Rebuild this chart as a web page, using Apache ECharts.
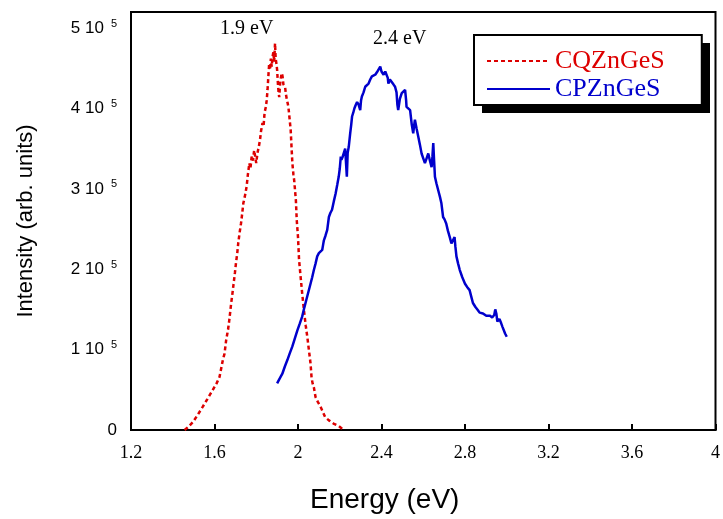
<!DOCTYPE html>
<html>
<head>
<meta charset="utf-8">
<script src="https://cdn.jsdelivr.net/npm/echarts@6/dist/echarts.min.js"></script>
<style>
  html, body { margin: 0; padding: 0; background: #fff; }
  #main { width: 723px; height: 519px; }
</style>
</head>
<body>
<div id="main"></div>
<script>
// CQZnGeS (red, dashed) - energy in eV, intensity in units of 1000
var energyQ = [1.457, 1.475, 1.497, 1.52, 1.544, 1.565, 1.592, 1.61, 1.624, 1.64, 1.648, 1.656, 1.665, 1.671,
  1.68, 1.686, 1.692, 1.698, 1.703, 1.709, 1.714, 1.72, 1.727, 1.733, 1.738, 1.745, 1.754, 1.76, 1.767, 1.772,
  1.778, 1.784, 1.79, 1.795, 1.8, 1.806, 1.812, 1.818, 1.823, 1.83, 1.835, 1.84, 1.846, 1.85, 1.854, 1.858,
  1.862, 1.866, 1.87, 1.874, 1.878, 1.882, 1.886, 1.89, 1.893, 1.897, 1.9, 1.904, 1.907, 1.91, 1.914, 1.918,
  1.922, 1.926, 1.93, 1.934, 1.938, 1.942, 1.946, 1.95, 1.954, 1.957, 1.962, 1.965, 1.969, 1.973, 1.978, 1.982,
  1.986, 1.99, 1.994, 2.0, 2.005, 2.012, 2.02, 2.028, 2.037, 2.045, 2.052, 2.06, 2.065, 2.07, 2.076, 2.084,
  2.095, 2.108, 2.12, 2.13, 2.148, 2.17, 2.195, 2.22];
var intensityQ = [0, 4, 10, 19, 29, 38, 50, 58, 66, 87, 95, 112, 125, 137,
  158, 170, 183, 196, 208, 220, 233, 245, 257, 270, 282, 290, 303, 318, 332, 325,
  340, 335, 348, 340, 332, 345, 352, 361, 372, 382, 378, 395, 402, 410, 423, 440,
  456, 448, 462, 452, 464, 470, 458, 481, 462, 455, 448, 430, 420, 414, 430, 438,
  444, 440, 430, 432, 427, 418, 412, 407, 402, 404, 400, 373, 352, 332, 318, 310,
  311, 285, 261, 240, 212, 192, 170, 150, 130, 115, 100, 83, 65, 58, 53, 41,
  35, 29, 22, 16, 12, 8, 5, 0];

// CPZnGeS (blue, solid)
var energyP = [1.9, 1.912, 1.925, 1.937, 1.949, 1.96, 1.973, 1.985, 1.997, 2.008, 2.02, 2.03, 2.04, 2.05,
  2.06, 2.068, 2.076, 2.084, 2.092, 2.1, 2.108, 2.116, 2.12, 2.124, 2.132, 2.14, 2.148, 2.155, 2.163, 2.172,
  2.18, 2.188, 2.195, 2.2, 2.205, 2.208, 2.214, 2.22, 2.226, 2.23, 2.234, 2.238, 2.243, 2.25, 2.255, 2.259,
  2.265, 2.27, 2.276, 2.283, 2.29, 2.295, 2.298, 2.302, 2.306, 2.314, 2.322, 2.33, 2.338, 2.346, 2.354, 2.362,
  2.37, 2.378, 2.386, 2.394, 2.4, 2.405, 2.41, 2.418, 2.426, 2.43, 2.433, 2.44, 2.449, 2.457, 2.465, 2.472,
  2.476, 2.48, 2.488, 2.497, 2.505, 2.513, 2.518, 2.52, 2.528, 2.537, 2.545, 2.552, 2.556, 2.56, 2.568, 2.576,
  2.584, 2.592, 2.6, 2.608, 2.616, 2.624, 2.632, 2.64, 2.644, 2.648, 2.652, 2.656, 2.663, 2.672, 2.68, 2.687,
  2.695, 2.702, 2.71, 2.718, 2.727, 2.735, 2.742, 2.75, 2.754, 2.759, 2.767, 2.775, 2.787, 2.8, 2.81, 2.822,
  2.83, 2.838, 2.85, 2.862, 2.87, 2.878, 2.886, 2.894, 2.902, 2.91, 2.92, 2.93, 2.94, 2.945, 2.95, 2.955,
  2.96, 2.965, 2.973, 2.98, 2.985, 2.992, 3.0];
var intensityP = [58, 64, 70, 79, 87, 95, 104, 114, 124, 132, 141, 152, 162, 172,
  182, 190, 199, 207, 216, 220, 222, 224, 230, 236, 242, 249, 265, 270, 274, 285,
  294, 305, 315, 325, 340, 336, 340, 345, 350, 352, 315, 345, 352, 369, 380, 390,
  395, 400, 404, 408, 405, 404, 398, 410, 415, 420, 427, 428, 431, 436, 440, 439,
  442, 445, 446, 452, 446, 444, 442, 446, 448, 438, 431, 436, 435, 430, 427, 420,
  405, 398, 412, 419, 418, 423, 410, 402, 404, 398, 380, 369, 378, 386, 375, 365,
  355, 344, 338, 332, 338, 344, 335, 327, 340, 357, 335, 315, 307, 298, 290, 282,
  265, 262, 257, 248, 240, 232, 234, 240, 228, 216, 207, 199, 190, 182, 178, 174,
  166, 158, 153, 149, 146, 148, 145, 145, 142, 141, 142, 140, 143, 150, 145, 135,
  133, 138, 133, 128, 126, 120, 116];

var peakLabels = ['1.9 eV', '2.4 eV'];

var RED = '#dd0000';
var BLUE = '#0000cc';
var SANS = '"Liberation Sans", Arial, sans-serif';
var SERIF = '"Liberation Serif", "Times New Roman", serif';

function pairs(xs, ys) {
  return xs.map(function (x, i) { return [x, ys[i] * 1000]; });
}

var chartDom = document.getElementById('main');
var myChart = echarts.init(chartDom);
var option;

option = {
  animation: false,
  grid: {
    left: 131, right: 4, top: 12, bottom: 89,
    show: true, borderColor: '#000', borderWidth: 2
  },
  legend: {
    orient: 'vertical',
    left: 474, top: 35,
    z: 10,
    padding: [13, 37, 3, 12],
    itemWidth: 63, itemHeight: 14, itemGap: 2,
    backgroundColor: '#fff',
    borderColor: '#000', borderWidth: 2,
    itemStyle: { opacity: 0 },
    textStyle: { fontFamily: SERIF, fontSize: 26 },
    data: [
      { name: 'CQZnGeS', textStyle: { color: RED } },
      { name: 'CPZnGeS', textStyle: { color: BLUE } }
    ]
  },
  xAxis: {
    type: 'value',
    min: 1.2, max: 4, interval: 0.4,
    name: 'Energy (eV)',
    nameLocation: 'middle',
    nameGap: 56,
    nameTextStyle: { fontFamily: SANS, fontSize: 28, color: '#000', padding: [0, 77, 0, 0] },
    splitLine: { show: false },
    axisLine: { lineStyle: { color: '#000', width: 2 } },
    axisTick: { inside: true, length: 6, lineStyle: { color: '#000', width: 2 } },
    axisLabel: { fontFamily: SERIF, fontSize: 18, color: '#000', margin: 14 }
  },
  yAxis: {
    type: 'value',
    min: 0, max: 520000, interval: 100000,
    name: 'Intensity (arb. units)',
    nameLocation: 'middle',
    nameGap: 94,
    nameTextStyle: { fontFamily: SANS, fontSize: 22, color: '#000' },
    splitLine: { show: false },
    axisLine: { lineStyle: { color: '#000', width: 2 } },
    axisTick: { show: false },
    axisLabel: {
      margin: 14,
      color: '#000',
      formatter: function (v) {
        if (v === 0) return '{m|0}';
        if (v % 100000 !== 0) return '';
        return '{m|' + (v / 100000) + ' 10}{s|5}';
      },
      rich: {
        m: { fontFamily: SANS, fontSize: 17, color: '#000', lineHeight: 20 },
        s: { fontFamily: SANS, fontSize: 11, color: '#000', verticalAlign: 'top', padding: [0, 0, 0, 7], lineHeight: 20 }
      }
    }
  },
  graphic: [
    // drop shadow behind the legend box
    { type: 'rect', left: 482, top: 43, z: 5, shape: { width: 228, height: 70 }, style: { fill: '#000' } },
    { type: 'text', left: 220, top: 19, style: { text: peakLabels[0], font: '20px ' + SERIF, fill: '#000' } },
    { type: 'text', left: 373, top: 29, style: { text: peakLabels[1], font: '20px ' + SERIF, fill: '#000' } }
  ],
  series: [
    {
      name: 'CQZnGeS',
      type: 'line',
      symbol: 'none',
      color: RED,
      lineStyle: { color: RED, width: 2.5, type: [4, 3] },
      data: pairs(energyQ, intensityQ)
    },
    {
      name: 'CPZnGeS',
      type: 'line',
      symbol: 'none',
      color: BLUE,
      lineStyle: { color: BLUE, width: 2.5 },
      data: pairs(energyP, intensityP)
    }
  ]
};

option && myChart.setOption(option);
</script>
</body>
</html>
